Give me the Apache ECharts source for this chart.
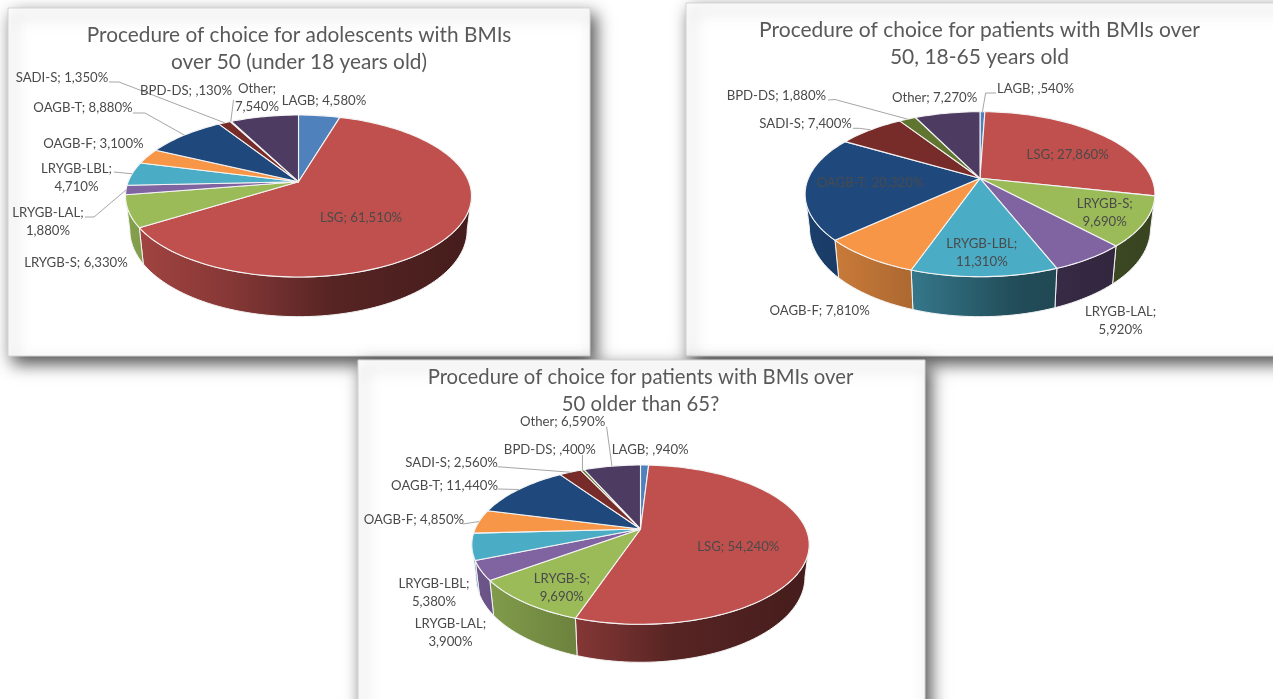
<!DOCTYPE html>
<html>
<head>
<meta charset="utf-8">
<style>html,body{margin:0;padding:0;background:#fff;overflow:hidden}#main{width:1273px;height:699px;filter:blur(0.45px)}</style>
<script src="https://cdn.jsdelivr.net/npm/echarts@6/dist/echarts.min.js"></script>
</head>
<body>
<div id="main"></div>
<script>
// ---- data ----
const procedures = ['LAGB','LSG','LRYGB-S','LRYGB-LAL','LRYGB-LBL','OAGB-F','OAGB-T','SADI-S','BPD-DS','Other'];
const teenShares   = [4.58, 61.51, 6.33, 1.88, 4.71, 3.10, 8.88, 1.35, 0.13, 7.54];
const adultShares  = [0.54, 27.86, 9.69, 5.92, 11.31, 7.81, 20.32, 7.40, 1.88, 7.27];
const seniorShares = [0.94, 54.24, 9.69, 3.90, 5.38, 4.85, 11.44, 2.56, 0.40, 6.59];
const titles = [
  'Procedure of choice for adolescents with BMIs\nover 50 (under 18 years old)',
  'Procedure of choice for patients with BMIs over\n50, 18-65 years old',
  'Procedure of choice for patients with BMIs over\n50 older than 65?'
];
const sliceColors = ['#4f81bd','#c0504d','#9bbb59','#8064a2','#4bacc6','#f79646','#1f497d','#772c2a','#5f7530','#4d3b62'];

// ---- layout (separate from the data) ----
const cards = [
  {x:8, y:8, width:582, height:348},
  {x:686, y:3, width:620, height:353},
  {x:358, y:360, width:567, height:370}
];
const titleAnchors = [[299,22],[979.5,17],[640.5,363.5]];
const titleSizes = [20.8, 21, 20.3];
// hub position, near/far reach of the top disc, half width, wall depth
const discs = [
  {hx:298.5, hy:181.7, up:66.7, down:95.3, half:173,   depth:33},
  {hx:980,   hy:178.3, up:66.6, down:98.4, half:174.9, depth:33.1},
  {hx:640.5, hy:529,   up:64,   down:95.3, half:168.7, depth:31.3}
];
const labelSpots = [
  [[324,101],[361,218],[76,263],[48,221.7],[76.5,178],[93.5,144],[83,108],[62,78],[186,91],[257,98]],
  [[1035.5,89],[1067.7,155],[1104.7,213],[1120.6,321],[981.8,252.5],[819.6,311],[870,183],[805.6,124],[776.4,96],[934.6,98]],
  [[650.2,450],[738.3,546.7],[561.8,587.3],[450.5,633],[434,592.5],[414,519.3],[444.6,485.7],[451.6,462.7],[549.8,449.3],[562.6,421.7]]
];
const wrappedLabels = [
  ['LRYGB-LAL','LRYGB-LBL','Other'],
  ['LRYGB-S','LRYGB-LAL','LRYGB-LBL'],
  ['LRYGB-S','LRYGB-LAL','LRYGB-LBL']
];
// leader line knots; the last point of each line is the slice's own rim point
const leaderKnots = [
  {'SADI-S':[[109,82],[119,82]],'OAGB-T':[[133,113],[145,113]],'LRYGB-LBL':[[114,172]],'LRYGB-LAL':[[85,217],[94,217]],'BPD-DS':[[233.5,100]]},
  {'LAGB':[[996,93],[985.6,93]],'SADI-S':[[853,128.3],[859.6,128.3]],'BPD-DS':[[828,100],[835,99.5]]},
  {'OAGB-F':[[462.9,524]],'OAGB-T':[[497.9,489]],'SADI-S':[[497.5,466.7]],'BPD-DS':[[582.5,455]],'Other':[[606.6,426.7]]}
];
const FONT = 'Lato, "Open Sans", sans-serif';
const LABEL_SIZE = 13.2;

// ---- helpers ----
function shade(hex, f) {
  const n = parseInt(hex.slice(1), 16);
  const c = s => Math.round(((n >> s) & 255) * f);
  return `rgb(${c(16)},${c(8)},${c(0)})`;
}
function shareText(v) {
  return v.toFixed(3).replace('.', ',').replace(/^0/, '') + '%';
}
// perspective view of a disc: a share position (0-100, clockwise from 12 o'clock) to screen
function makeProjector(d) {
  const k = (d.down - d.up) / (d.down + d.up);
  const ry = d.up * (1 + k);
  const rx = d.half * Math.sqrt(1 - k * k);
  const project = function (pct, lowered) {
    const a = pct / 100 * 2 * Math.PI;
    const u = Math.sin(a), v = -Math.cos(a), w = 1 - k * v;
    const sx = lowered ? 0.975 : 1, sy = lowered ? 1.07 : 1;
    return [d.hx + sx * rx * u / w, d.hy + (lowered ? d.depth : 0) + sy * ry * v / w];
  };
  // share positions of the disc's left and right extremes: the wall shows only between them
  project.wallFrom = Math.acos(-k) / (2 * Math.PI) * 100;
  project.wallTo = 100 - project.wallFrom;
  return project;
}
function arc(project, from, to, lowered) {
  const n = Math.max(2, Math.ceil((to - from) * 2));
  const pts = [];
  for (let i = 0; i <= n; i++) pts.push(project(from + (to - from) * i / n, lowered));
  return pts;
}

function pieSeries(shares, p) {
  const d = discs[p], project = makeProjector(d);
  let run = 0;
  const rows = shares.map(v => { const r = [v, run]; run += v; return r; });
  const scale = 100 / run;
  return {
    type: 'custom',
    name: titles[p].replace('\n', ' '),
    coordinateSystem: 'none',
    data: rows,
    animation: false,
    silent: true,
    renderItem(params, api) {
      const i = params.dataIndex, value = api.value(0), start = api.value(1);
      const from = start * scale, to = (start + value) * scale;
      const name = procedures[i], color = sliceColors[i];
      const rim = arc(project, from, to, false);
      const children = [];
      const wFrom = Math.max(from, project.wallFrom), wTo = Math.min(to, project.wallTo);
      if (wTo > wFrom) {
        children.push({
          type: 'polygon', z2: 1,
          shape: {points: arc(project, wFrom, wTo, false).concat(arc(project, wFrom, wTo, true).reverse())},
          style: {
            fill: new echarts.graphic.LinearGradient(d.hx - d.half, 0, d.hx + d.half, 0, [
              {offset: 0, color: shade(color, 0.86)},
              {offset: 0.3, color: shade(color, 0.7)},
              {offset: 0.6, color: shade(color, 0.45)},
              {offset: 1, color: shade(color, 0.36)}
            ], true),
            stroke: '#f4f4f4', lineWidth: 1
          }
        });
      }
      children.push({
        type: 'polygon', z2: 2,
        shape: {points: [[d.hx, d.hy]].concat(rim)},
        style: {fill: color, stroke: '#f4f4f4', lineWidth: 1.1, lineJoin: 'round'}
      });
      const knots = leaderKnots[p][name];
      if (knots) {
        children.push({
          type: 'polyline', z2: 3,
          shape: {points: knots.concat([project((from + to) / 2, false)])},
          style: {fill: null, stroke: '#a6a6a6', lineWidth: 1}
        });
      }
      const brk = wrappedLabels[p].indexOf(name) >= 0 ? '\n' : ' ';
      children.push({
        type: 'text', z2: 4,
        style: {
          text: name + ';' + brk + shareText(value),
          x: labelSpots[p][i][0], y: labelSpots[p][i][1],
          align: 'center', verticalAlign: 'middle',
          fontFamily: FONT, fontSize: LABEL_SIZE, lineHeight: 18, fill: '#4a4a4a'
        }
      });
      return {type: 'group', children};
    }
  };
}

const chart = echarts.init(document.getElementById('main'), null, {renderer: 'canvas'});
chart.setOption({
  animation: false,
  backgroundColor: '#fff',
  title: titles.map((t, i) => ({
    text: t, left: titleAnchors[i][0], top: titleAnchors[i][1], textAlign: 'center', padding: 0,
    textStyle: {fontFamily: FONT, fontSize: titleSizes[i], fontWeight: 'normal', color: '#595959', lineHeight: 27}
  })),
  graphic: cards.map((c, i) => ({
    type: 'rect', z: -10 + i, silent: true,
    shape: {x: c.x, y: c.y, width: c.width, height: c.height},
    style: {fill: '#fff', stroke: '#d4d4d4', lineWidth: 1,
      shadowColor: 'rgba(0,0,0,0.7)', shadowBlur: 16, shadowOffsetX: 5, shadowOffsetY: 7}
  })),
  series: [teenShares, adultShares, seniorShares].map(pieSeries)
});
</script>
</body>
</html>
